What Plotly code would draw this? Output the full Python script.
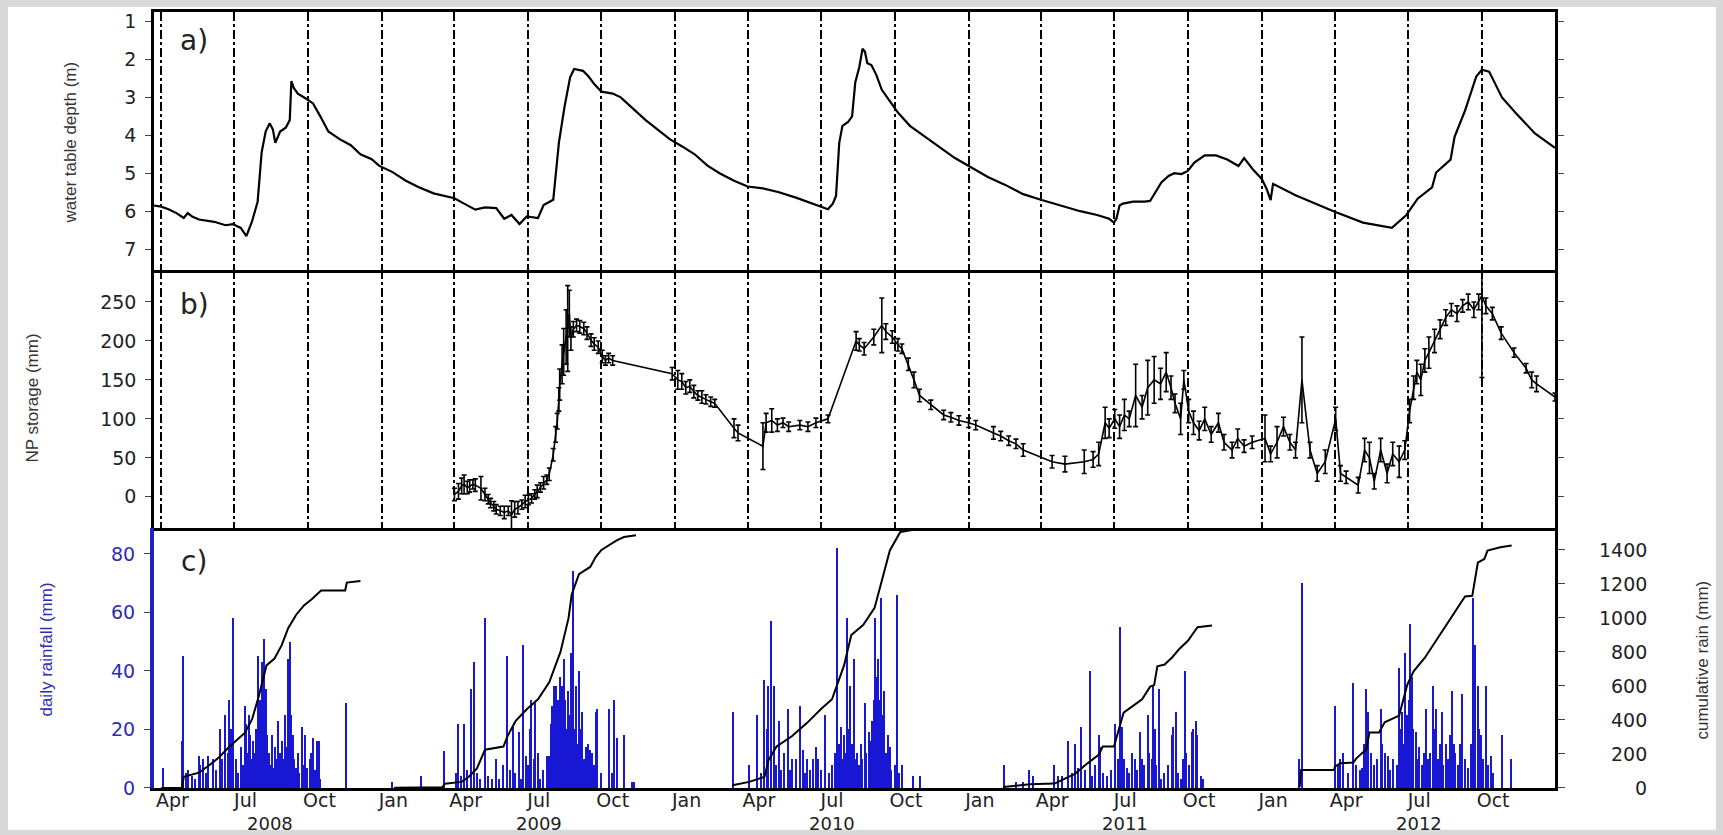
import plotly.graph_objects as go

# ---------------- data ----------------
wt_dates = ["2008-03-23","2008-04-01","2008-04-10","2008-04-20","2008-04-29","2008-05-04","2008-05-10","2008-05-18",
 "2008-06-06","2008-06-20","2008-06-29","2008-07-09","2008-07-16","2008-07-23","2008-07-30","2008-08-04","2008-08-09",
 "2008-08-14","2008-08-18","2008-08-21","2008-08-27","2008-09-03","2008-09-08","2008-09-10","2008-09-13","2008-09-18",
 "2008-09-28","2008-10-07","2008-10-16","2008-10-26","2008-11-09","2008-11-23","2008-12-05","2008-12-19","2008-12-28",
 "2009-01-14","2009-01-30","2009-02-15","2009-03-06","2009-04-01","2009-04-13","2009-04-27","2009-05-09","2009-05-23",
 "2009-06-02","2009-06-11","2009-06-21","2009-06-30","2009-07-14","2009-07-21","2009-08-02","2009-08-09","2009-08-16",
 "2009-08-23","2009-08-28","2009-09-08","2009-09-15","2009-09-22","2009-10-01","2009-10-15","2009-10-25","2009-11-10",
 "2009-11-25","2009-12-10","2009-12-25","2010-01-10","2010-01-25","2010-02-10","2010-02-25","2010-03-15","2010-04-01",
 "2010-04-20","2010-05-10","2010-06-01","2010-06-20","2010-07-01","2010-07-10","2010-07-16","2010-07-20","2010-07-24",
 "2010-07-28","2010-08-04","2010-08-09","2010-08-13","2010-08-18","2010-08-22","2010-08-25","2010-08-28","2010-09-02",
 "2010-09-08","2010-09-15","2010-09-25","2010-10-05","2010-10-20","2010-11-05","2010-11-25","2010-12-15","2011-01-05",
 "2011-01-25","2011-02-15","2011-03-10","2011-04-01","2011-04-25","2011-05-20","2011-06-10","2011-06-25","2011-07-01",
 "2011-07-04","2011-07-08","2011-07-12","2011-07-25","2011-08-08","2011-08-15","2011-08-24","2011-08-29","2011-09-07",
 "2011-09-14","2011-09-23","2011-10-01","2011-10-09","2011-10-22","2011-11-05","2011-11-19","2011-12-03","2011-12-10",
 "2011-12-21","2012-01-01","2012-01-07","2012-01-12","2012-01-15","2012-02-12","2012-03-31","2012-05-06","2012-06-11",
 "2012-06-29","2012-07-13","2012-07-31","2012-08-05","2012-08-23","2012-08-28","2012-09-10","2012-09-24","2012-10-01",
 "2012-10-10","2012-10-26","2012-11-13","2012-12-06","2012-12-31"]
wt_depth = [5.85,5.88,5.95,6.05,6.18,6.05,6.15,6.22,
 6.28,6.37,6.34,6.44,6.66,6.27,5.75,4.45,3.9,
 3.68,3.85,4.2,3.9,3.8,3.6,2.57,2.75,2.9,
 3.03,3.16,3.5,3.9,4.1,4.26,4.5,4.63,4.8,
 4.97,5.19,5.36,5.53,5.66,5.8,5.96,5.9,5.92,
 6.2,6.1,6.34,6.14,6.18,5.84,5.7,4.2,3.25,
 2.47,2.25,2.3,2.45,2.65,2.85,2.9,3.0,3.3,
 3.6,3.85,4.1,4.3,4.5,4.8,5.0,5.2,5.35,
 5.4,5.5,5.65,5.8,5.9,5.95,5.8,5.6,4.2,
 3.75,3.65,3.5,2.6,2.2,1.72,1.8,2.1,2.15,
 2.4,2.8,3.1,3.4,3.75,4.0,4.3,4.6,4.85,
 5.1,5.3,5.55,5.7,5.85,6.0,6.1,6.2,6.3,
 6.2,5.85,5.8,5.75,5.75,5.73,5.41,5.24,5.07,
 5.0,5.02,4.94,4.72,4.53,4.53,4.64,4.81,4.6,
 4.9,5.15,5.41,5.71,5.28,5.58,6.01,6.3,6.44,
 6.1,5.67,5.37,4.98,4.64,4.04,3.35,2.45,2.27,
 2.32,3.0,3.43,3.95,4.33]

np_dates = ["2009-04-01","2009-04-06","2009-04-10","2009-04-13","2009-04-17","2009-04-20","2009-04-24","2009-04-27",
 "2009-05-04","2009-05-09","2009-05-13","2009-05-16","2009-05-20","2009-05-23","2009-05-28","2009-06-02","2009-06-07",
 "2009-06-11","2009-06-15","2009-06-19","2009-06-24","2009-06-28","2009-07-02","2009-07-06","2009-07-10","2009-07-13",
 "2009-07-17","2009-07-21","2009-07-25","2009-07-28","2009-08-02","2009-08-05","2009-08-07","2009-08-09","2009-08-10",
 "2009-08-13","2009-08-15","2009-08-18","2009-08-20","2009-08-22","2009-08-24","2009-08-27","2009-08-31","2009-09-04",
 "2009-09-09","2009-09-13","2009-09-18","2009-09-22","2009-09-27","2009-10-02","2009-10-06","2009-10-10","2009-10-15",
 "2009-12-28","2010-01-04","2010-01-09","2010-01-14","2010-01-19","2010-01-24","2010-01-29","2010-02-03","2010-02-08",
 "2010-02-14","2010-02-19","2010-03-15","2010-03-20","2010-04-20","2010-04-24","2010-05-01","2010-05-08","2010-05-15",
 "2010-05-22","2010-06-05","2010-06-15","2010-06-25","2010-07-10","2010-08-14","2010-08-18","2010-08-24","2010-09-05",
 "2010-09-15","2010-09-20","2010-09-28","2010-10-05","2010-10-10","2010-10-18","2010-10-25","2010-11-01","2010-11-15",
 "2010-12-01","2010-12-10","2010-12-20","2011-01-01","2011-01-10","2011-02-01","2011-02-10","2011-02-20","2011-03-01",
 "2011-03-10","2011-04-15","2011-05-01","2011-05-25","2011-06-05","2011-06-12","2011-06-20","2011-06-25","2011-07-02",
 "2011-07-08","2011-07-14","2011-07-20","2011-07-28","2011-08-05","2011-08-12","2011-08-20","2011-08-28","2011-09-04",
 "2011-09-10","2011-09-15","2011-09-22","2011-09-26","2011-10-02","2011-10-08","2011-10-15","2011-10-22","2011-10-30",
 "2011-11-08","2011-11-15","2011-11-25","2011-12-02","2011-12-10","2011-12-20","2012-01-05","2012-01-12","2012-01-20",
 "2012-01-28","2012-02-05","2012-02-12","2012-02-20","2012-03-01","2012-03-10","2012-03-20","2012-04-02","2012-04-08",
 "2012-04-15","2012-04-30","2012-05-08","2012-05-14","2012-05-20","2012-05-28","2012-06-05","2012-06-12","2012-06-20",
 "2012-06-27","2012-07-03","2012-07-08","2012-07-12","2012-07-17","2012-07-22","2012-07-27","2012-08-03","2012-08-10",
 "2012-08-17","2012-08-24","2012-08-31","2012-09-07","2012-09-14","2012-09-21","2012-09-27","2012-10-01","2012-10-06",
 "2012-10-14","2012-10-25","2012-11-10","2012-11-25","2012-12-02","2012-12-08","2012-12-31"]
np_mm = [3,7,14,16,12,14,16,15,
 11,3,-3,-8,-12,-16,-18,-20,-18,
 -23,-16,-14,-10,-6,-4,-2,3,7,
 12,18,22,29,54,80,97,125,144,
 170,186,205,216,235,203,215,220,218,
 216,210,201,196,192,180,175,178,175,
 158,150,148,140,142,135,130,128,125,
 122,120,88,82,65,95,98,92,95,
 90,92,90,95,100,200,195,190,205,
 220,212,205,195,190,170,150,130,118,
 105,102,98,95,92,82,78,72,68,
 60,45,42,45,48,55,95,88,100,
 90,105,100,130,115,140,150,145,160,
 140,120,100,150,110,95,85,100,80,
 95,70,60,75,65,70,75,55,70,
 90,70,60,150,60,30,45,100,30,
 25,15,60,50,20,60,30,55,45,
 60,110,140,160,150,175,185,200,215,
 230,240,235,245,250,240,250,258,245,
 235,210,185,165,150,145,128]
np_err_up = [8,10,10,12,8,8,6,8,
 15,8,6,6,6,6,6,8,6,
 18,10,8,6,8,6,6,6,8,
 6,8,6,8,8,10,10,15,20,
 25,30,35,55,30,15,10,8,8,
 8,8,8,8,8,8,6,6,6,
 8,12,10,8,8,8,6,8,6,
 6,5,12,10,30,12,15,8,6,
 6,6,6,6,5,12,8,8,10,
 35,10,8,8,6,8,10,8,6,
 6,6,6,6,6,8,6,6,6,
 8,8,10,15,10,15,20,12,12,
 15,20,10,40,15,35,30,20,25,
 15,12,20,12,15,15,12,15,10,
 12,10,10,12,8,8,30,10,20,
 12,10,10,55,10,10,15,15,10,
 8,10,15,20,10,15,12,15,20,
 12,15,15,15,20,15,20,15,12,
 10,8,10,8,10,10,10,35,10,
 8,8,6,6,10,10,5]
np_err_dn = [8,10,10,12,8,8,6,8,
 15,8,6,6,6,6,6,8,6,
 18,10,8,6,8,6,6,6,8,
 6,8,6,8,8,10,10,15,20,
 25,30,35,55,30,15,10,8,8,
 8,8,8,8,8,8,6,6,6,
 8,12,10,8,8,8,6,8,6,
 6,5,12,10,30,12,15,8,6,
 6,6,6,6,5,12,8,8,10,
 35,10,8,8,6,8,10,8,6,
 6,6,6,6,6,8,6,6,6,
 8,8,10,15,10,15,20,12,12,
 15,20,10,40,15,35,30,20,25,
 15,12,20,12,15,15,12,15,10,
 12,10,10,12,8,8,30,10,20,
 12,10,10,55,10,10,15,15,10,
 8,10,15,20,10,15,12,15,20,
 12,15,15,15,20,15,20,15,12,
 10,8,10,8,10,10,10,105,10,
 8,8,6,6,10,10,5]

# daily rainfall (mm), per year: month-day and value
rain_2008_md = ["04-03","04-27","04-28","05-02","05-05","05-09","05-13","05-18","05-20","05-23","05-27","05-30",
 "06-04","06-08","06-13","06-16","06-20","06-23","06-25","06-27","06-30","07-03","07-06","07-09","07-12","07-14",
 "07-16","07-17","07-19","07-21","07-23","07-24","07-26","07-28","07-29","07-31","08-02","08-04","08-05","08-07",
 "08-08","08-10","08-11","08-13","08-15","08-17","08-19","08-21","08-23","08-25","08-27","08-30","09-01","09-02",
 "09-04","09-06","09-07","09-09","09-10","09-12","09-14","09-16","09-18","09-20","09-23","09-25","09-27","09-30",
 "10-03","10-05","10-07","10-10","10-12","10-14","10-16","11-17"]
rain_2008_mm = [7,16,45,5,6,4,3,11,8,10,5,11,
 10,6,20,10,25,12,30,20,58,10,5,14,8,28,
 22,12,25,18,10,16,12,20,8,45,30,43,15,51,
 22,34,18,12,8,18,7,14,10,23,12,16,10,25,
 14,44,20,50,25,18,10,7,12,5,21,8,18,7,
 10,12,17,6,16,16,3,29]
rain_2009_md = ["01-14","02-19","03-19","04-03","04-06","04-09","04-13","04-17","04-22","04-26","04-29","05-03",
 "05-09","05-13","05-18","05-23","05-27","06-01","06-06","06-09","06-13","06-16","06-20","06-23","06-26","06-29",
 "07-02","07-04","07-06","07-09","07-11","07-14","07-17","07-21","07-25","07-28","07-30","08-01","08-03","08-05",
 "08-06","08-08","08-10","08-12","08-13","08-15","08-17","08-18","08-20","08-22","08-24","08-25","08-27","08-28",
 "08-30","09-01","09-03","09-05","09-07","09-09","09-12","09-14","09-17","09-19","09-22","09-24","09-26","10-01",
 "10-10","10-14","10-17","10-20","10-29","11-08","11-11"]
rain_2009_mm = [2,4,12.5,5,22,4,22,6,34,43,5,3,
 58,4,3,10,3,8,45,6,21,5,19,3,49,11,
 8,20,30,10,29,12,3,6,11,11,22,28,35,25,
 35,30,38,30,35,44,30,20,33,25,46,28,74,20,
 35,15,40,20,26,10,14,15,13,12,8,26,27,5,
 27,5,30,17,18,2,2]
rain_2010_md = ["03-14","04-03","04-13","04-18","04-22","04-25","04-27","04-30","05-04","05-07","05-10","05-13",
 "05-16","05-21","05-24","05-26","05-31","06-05","06-09","06-12","06-14","06-18","06-21","06-25","06-28","07-02",
 "07-07","07-11","07-15","07-19","07-22","07-24","07-26","07-28","07-30","08-01","08-03","08-05","08-07","08-09",
 "08-11","08-13","08-15","08-18","08-20","08-22","08-25","08-27","08-30","09-01","09-03","09-05","09-07","09-09",
 "09-11","09-12","09-14","09-16","09-18","09-20","09-23","09-25","09-27","10-01","10-04","10-07","10-10","10-24",
 "11-02"]
rain_2010_mm = [26,8,25,5,37,20,35,57,35,8,23,6,
 12,27,6,10,10,28,13,5,10,6,10,14,10,6,
 25,5,8,12,82,15,21,10,18,12,58,20,35,15,
 44,10,12,8,15,10,29,12,19,16,23,30,58,38,
 44,30,65,25,33,12,18,14,6,8,66,5,8,4,
 4]
rain_2011_md = ["02-14","03-01","03-10","03-17","03-22","04-18","04-22","04-28","05-05","05-10","05-14","05-17",
 "05-21","05-26","06-01","06-04","06-08","06-12","06-14","06-18","06-23","06-28","07-03","07-06","07-09","07-11",
 "07-14","07-17","07-20","07-24","07-27","07-30","08-03","08-05","08-08","08-12","08-14","08-17","08-19","08-21",
 "08-23","08-26","08-29","09-02","09-06","09-11","09-13","09-16","09-19","09-22","09-25","09-27","09-29","10-02",
 "10-06","10-08","10-11","10-13","10-17","10-20"]
rain_2011_mm = [8,2,2,6,4,8,4,4,16,5,15,7,
 21,6,40,4,8,18,14,5,4,6,22,10,55,21,
 10,7,5,12,10,6,19,10,8,25,12,10,35,20,
 8,34,3,5,8,18,21,26,5,3,10,40,12,8,
 19,20,23,18,4,3]
rain_2012_md = ["02-17","02-20","04-01","04-05","04-08","04-11","04-18","04-24","04-27","05-02","05-05","05-08",
 "05-10","05-13","05-16","05-20","05-24","05-28","05-30","06-02","06-06","06-09","06-13","06-17","06-20","06-22",
 "06-24","06-26","06-28","06-30","07-02","07-04","07-06","07-08","07-11","07-13","07-15","07-18","07-21","07-24",
 "07-26","07-29","08-01","08-03","08-05","08-08","08-10","08-12","08-14","08-17","08-20","08-22","08-25","08-27",
 "08-29","09-01","09-04","09-07","09-10","09-14","09-18","09-20","09-22","09-23","09-26","09-28","09-30","10-03",
 "10-06","10-09","10-13","10-15","10-26","11-07"]
rain_2012_mm = [10,70,28,8,10,12,5,36,8,6,7,15,
 34,26,12,8,10,27,15,12,11,6,10,8,41,20,
 26,15,46,25,30,56,38,20,19,10,14,8,12,27,
 10,12,35,20,27,10,15,26,8,15,10,18,33,15,
 12,8,15,32,10,7,15,65,40,49,35,20,18,10,
 35,8,11,5,18,10]

# cumulative rainfall (mm), one segment per year
cum_2008_dates = ["2008-04-01","2008-04-27","2008-04-29","2008-05-18","2008-06-04","2008-06-13","2008-06-25","2008-07-04",
 "2008-07-14","2008-07-23","2008-07-31","2008-08-10","2008-08-20","2008-08-29","2008-09-06","2008-09-16","2008-09-26",
 "2008-10-05","2008-10-17","2008-11-16","2008-11-18","2008-12-05"]
cum_2008_mm = [0,0,66,90,149,185,244,284,324,403,532,721,761,840,940,1019,1075,1109,1162,1162,1208,1218]
cum_2009_dates = ["2009-01-16","2009-03-17","2009-03-20","2009-04-10","2009-04-19","2009-04-29","2009-05-09","2009-06-01",
 "2009-06-06","2009-06-16","2009-06-30","2009-07-14","2009-07-28","2009-08-11","2009-08-21","2009-08-25","2009-09-03",
 "2009-09-17","2009-09-24","2009-10-01","2009-10-20","2009-10-29","2009-11-13"]
cum_2009_mm = [2,4,25,36,66,115,225,244,304,393,463,522,622,800,999,1138,1258,1300,1360,1400,1456,1476,1486]
cum_2010_dates = ["2010-03-13","2010-04-03","2010-04-22","2010-04-27","2010-05-07","2010-05-26","2010-06-14","2010-07-01",
 "2010-07-15","2010-07-30","2010-08-08","2010-08-23","2010-09-06","2010-09-14","2010-09-25","2010-10-08","2010-11-03"]
cum_2010_mm = [16,36,66,165,244,304,383,463,522,721,900,960,1059,1198,1397,1506,1526]
cum_2011_dates = ["2011-02-13","2011-03-18","2011-04-18","2011-05-05","2011-05-14","2011-05-29","2011-06-12","2011-06-17",
 "2011-07-01","2011-07-13","2011-08-05","2011-08-15","2011-08-20","2011-08-24","2011-09-02","2011-09-11","2011-09-20",
 "2011-10-01","2011-10-13","2011-10-31"]
cum_2011_mm = [6,22,26,66,85,145,195,244,244,443,522,596,605,716,726,766,816,866,946,956]
cum_2012_dates = ["2012-02-17","2012-02-19","2012-03-31","2012-04-01","2012-04-08","2012-04-24","2012-04-28","2012-05-10",
 "2012-05-14","2012-05-26","2012-06-02","2012-06-11","2012-06-20","2012-06-30","2012-07-08","2012-07-22","2012-08-05",
 "2012-08-18","2012-09-01","2012-09-10","2012-09-19","2012-09-26","2012-10-04","2012-10-08","2012-10-24","2012-11-07"]
cum_2012_mm = [6,106,106,126,146,150,176,226,326,326,386,406,426,606,686,766,866,966,1066,1126,1130,1326,1346,1396,1416,1426]

# axis ticks / labels
x_range = ["2008-03-23", "2012-12-31"]
quarter_starts = ["2008-04-01","2008-07-01","2008-10-01","2009-01-01","2009-04-01","2009-07-01","2009-10-01",
 "2010-01-01","2010-04-01","2010-07-01","2010-10-01","2011-01-01","2011-04-01","2011-07-01","2011-10-01",
 "2012-01-01","2012-04-01","2012-07-01","2012-10-01"]
month_label_pos = [d[:8] + "15" for d in quarter_starts]
month_labels = ["Apr","Jul","Oct","Jan"] * 4 + ["Apr","Jul","Oct"]
year_labels = ["2008","2009","2010","2011","2012"]
year_label_pos = ["2008-08-14","2009-07-15","2010-07-15","2011-07-15","2012-07-15"]
depth_ticks = [1,2,3,4,5,6,7]
np_ticks = [0,50,100,150,200,250]
rain_ticks = [0,20,40,60,80]
cum_ticks = [0,200,400,600,800,1000,1200,1400]

# ---------------- figure ----------------
W, H = 1723, 835
PL, PR, PT, PB = 154, 1555, 9, 788
def px_x(p): return (p - PL) / (PR - PL)
def px_y(p): return (PB - p) / (PB - PT)

BLUE_TXT = "#2c2cb4"
BAR = "#1818d4"
TICKFONT = dict(family="DejaVu Sans", size=19, color="#222")
TITLEFONT = dict(family="Liberation Sans", size=17, color="#333")

rain_dates = ([f"2008-{d}" for d in rain_2008_md] + [f"2009-{d}" for d in rain_2009_md] +
              [f"2010-{d}" for d in rain_2010_md] + [f"2011-{d}" for d in rain_2011_md] +
              [f"2012-{d}" for d in rain_2012_md])
rain_mm = rain_2008_mm + rain_2009_mm + rain_2010_mm + rain_2011_mm + rain_2012_mm

fig = go.Figure()
fig.add_trace(go.Scatter(x=wt_dates, y=wt_depth, mode="lines", line=dict(color="black", width=2.2),
                         xaxis="x", yaxis="y", showlegend=False))
fig.add_trace(go.Scatter(x=np_dates, y=np_mm, mode="lines", line=dict(color="black", width=1.6),
                         error_y=dict(type="data", array=np_err_up, arrayminus=np_err_dn, color="black",
                                      thickness=1.6, width=2.5),
                         xaxis="x2", yaxis="y2", showlegend=False))
fig.add_trace(go.Bar(x=rain_dates, y=rain_mm, width=1.6 * 86400000, marker=dict(color=BAR, line=dict(width=0)),
                     xaxis="x3", yaxis="y3", showlegend=False))
for dts, vals in [(cum_2008_dates, cum_2008_mm), (cum_2009_dates, cum_2009_mm), (cum_2010_dates, cum_2010_mm),
                  (cum_2011_dates, cum_2011_mm), (cum_2012_dates, cum_2012_mm)]:
    fig.add_trace(go.Scatter(x=dts, y=vals, mode="lines", line=dict(color="black", width=2),
                             xaxis="x3", yaxis="y4", showlegend=False))

dom_c = [0, px_y(527)]
dom_b = [px_y(527), px_y(268)]
dom_a = [px_y(268), 1]

xcommon = dict(type="date", range=x_range, showline=True, linecolor="black", linewidth=2.5, zeroline=False)
fig.update_layout(
    width=W, height=H,
    margin=dict(l=PL, r=W - PR, t=PT, b=H - PB),
    paper_bgcolor="#d9d9d9", plot_bgcolor="white",
    bargap=0,
    xaxis=dict(**xcommon, anchor="y", matches="x3", tickvals=quarter_starts, showticklabels=False,
               showgrid=True, gridcolor="black", griddash="dashdot", gridwidth=1.6,
               mirror="allticks", ticks="inside", ticklen=6, tickcolor="black"),
    xaxis2=dict(**xcommon, anchor="y2", matches="x3", tickvals=quarter_starts, showticklabels=False,
                showgrid=True, gridcolor="black", griddash="dashdot", gridwidth=1.6,
                mirror=False, ticks="inside", ticklen=6, tickcolor="black"),
    xaxis3=dict(**xcommon, anchor="y3", tickvals=month_label_pos, ticktext=month_labels, ticks="",
                showgrid=False, mirror=False, ticklabelstandoff=-7,
                tickfont=dict(family="DejaVu Sans", size=19, color="#222")),
    yaxis=dict(domain=dom_a, range=[7.55, 0.75], tickvals=depth_ticks, showgrid=False, zeroline=False,
               showline=True, linecolor="black", linewidth=2.5, mirror="allticks", ticks="outside",
               ticklen=6, tickcolor="#444", tickfont=TICKFONT, ticklabelstandoff=5),
    yaxis2=dict(domain=dom_b, range=[-40, 291], tickvals=np_ticks, showgrid=False, zeroline=False,
                showline=True, linecolor="black", linewidth=2.5, mirror="allticks", ticks="outside",
                ticklen=6, tickcolor="#444", tickfont=TICKFONT, ticklabelstandoff=5),
    yaxis3=dict(domain=dom_c, range=[0, 88.85], tickvals=rain_ticks, showgrid=False, zeroline=False,
                showline=True, linecolor="#2020c0", linewidth=4, ticks="outside", ticklen=6, tickcolor="#444",
                tickfont=dict(family="DejaVu Sans", size=19, color=BLUE_TXT), ticklabelstandoff=5),
    yaxis4=dict(domain=dom_c, overlaying="y3", side="right", anchor="x3", range=[0, 1529], tickvals=cum_ticks,
                showticklabels=False, showgrid=False, zeroline=False, showline=True, linecolor="black",
                linewidth=2.5, ticks="outside", ticklen=7, tickcolor="#444"),
)

# white page area inside the grey frame
fig.add_shape(type="rect", xref="paper", yref="paper", layer="below",
              x0=px_x(8), x1=px_x(1716), y0=px_y(830), y1=px_y(4),
              fillcolor="white", line=dict(width=0))

ann = []
# axis titles
ann.append(dict(text="water table depth (m)", x=px_x(70), y=px_y(140), textangle=-90, font=TITLEFONT))
ann.append(dict(text="NP storage (mm)", x=px_x(33), y=px_y(397), textangle=-90, font=TITLEFONT))
ann.append(dict(text="daily rainfall (mm)", x=px_x(47), y=px_y(649), textangle=-90,
                font=dict(family="Liberation Sans", size=17, color=BLUE_TXT)))
ann.append(dict(text="cumulative rain (mm)", x=px_x(1702), y=px_y(659), textangle=-90, font=TITLEFONT))
# panel letters
for lab, yy in [("a)", 38), ("b)", 303), ("c)", 561)]:
    ann.append(dict(text=lab, x=px_x(194), y=px_y(yy), font=dict(family="DejaVu Sans", size=28, color="#222")))
for a in ann:
    a.update(xref="paper", yref="paper", showarrow=False, xanchor="center", yanchor="middle")
# right-axis labels (right aligned)
for v in cum_ticks:
    ann.append(dict(text=str(v), x=px_x(1649), xref="paper", y=v, yref="y4", showarrow=False,
                    xanchor="right", yanchor="middle", font=TICKFONT))
# year labels under the time axis
for yl, yp in zip(year_labels, year_label_pos):
    ann.append(dict(text=yl, x=yp, xref="x3", y=px_y(824), yref="paper", showarrow=False,
                    xanchor="center", yanchor="middle", font=dict(family="DejaVu Sans", size=18, color="#222")))
fig.update_layout(annotations=ann)

fig.write_html("out.html")
